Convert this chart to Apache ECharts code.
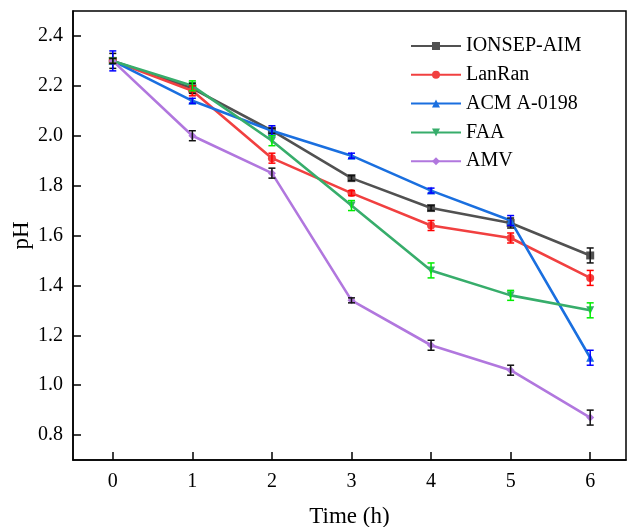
<!DOCTYPE html>
<html>
<head>
<meta charset="utf-8">
<script src="https://cdn.jsdelivr.net/npm/echarts@6/dist/echarts.min.js"></script>
<style>html,body{margin:0;padding:0;background:#fff}#c{width:630px;height:527px}</style>
</head>
<body>
<div id="c"></div>
<script>
var times = [0, 1, 2, 3, 4, 5, 6];
var xTicks = [0, 1, 2, 3, 4, 5, 6];
var yTicks = [0.8, 1.0, 1.2, 1.4, 1.6, 1.8, 2.0, 2.2, 2.4];
var seriesNames = ['IONSEP-AIM', 'LanRan', 'ACM A-0198', 'FAA', 'AMV'];
var ionsep = [2.30, 2.19, 2.02, 1.83, 1.71, 1.65, 1.52];
var lanran = [2.30, 2.18, 1.91, 1.77, 1.64, 1.59, 1.43];
var acm = [2.30, 2.14, 2.02, 1.92, 1.78, 1.66, 1.11];
var faa = [2.30, 2.20, 1.98, 1.72, 1.46, 1.36, 1.30];
var amv = [2.30, 2.00, 1.85, 1.34, 1.16, 1.06, 0.87];
var ionsepErr = [0.03, 0.02, 0.01, 0.01, 0.01, 0.02, 0.03];
var lanranErr = [0.01, 0.02, 0.02, 0.01, 0.02, 0.02, 0.03];
var acmErr = [0.04, 0.01, 0.02, 0.01, 0.01, 0.02, 0.03];
var faaErr = [0.01, 0.02, 0.02, 0.02, 0.03, 0.02, 0.03];
var amvErr = [0.01, 0.02, 0.02, 0.01, 0.02, 0.02, 0.03];

var values = [ionsep, lanran, acm, faa, amv];
var errors = [ionsepErr, lanranErr, acmErr, faaErr, amvErr];
var lineColors = ['#515151', '#F14040', '#1A6FDF', '#37AD6B', '#B177DE'];
var errColors = ['#111111', '#FF0000', '#0000FF', '#00EE00', '#111111'];
var symbols = ['rect', 'circle', 'triangle', 'triangle', 'diamond'];
var rotates = [0, 0, 0, 180, 0];
var FONT = '"Liberation Serif", "Times New Roman", serif';

var series = [];
values.forEach(function (vals, i) {
  series.push({
    name: seriesNames[i],
    type: 'line',
    data: times.map(function (t, j) { return [t, vals[j]]; }),
    symbol: symbols[i],
    symbolRotate: rotates[i],
    symbolSize: 8,
    showAllSymbol: true,
    lineStyle: { color: lineColors[i], width: 2.6 },
    itemStyle: { color: lineColors[i] },
    z: 2 + i,
    animation: false
  });
});
values.forEach(function (vals, i) {
  series.push({
    type: 'custom',
    name: seriesNames[i] + ' err',
    data: times.map(function (t, j) { return [t, vals[j], errors[i][j]]; }),
    z: 20,
    silent: true,
    animation: false,
    renderItem: function (params, api) {
      var x = api.value(0), y = api.value(1), e = api.value(2);
      var top = api.coord([x, y + e]);
      var bot = api.coord([x, y - e]);
      var hw = 3.5;
      var st = { stroke: errColors[i], lineWidth: 1.5 };
      return {
        type: 'group',
        children: [
          { type: 'line', shape: { x1: top[0], y1: top[1], x2: bot[0], y2: bot[1] }, style: st },
          { type: 'line', shape: { x1: top[0] - hw, y1: top[1], x2: top[0] + hw, y2: top[1] }, style: st },
          { type: 'line', shape: { x1: bot[0] - hw, y1: bot[1], x2: bot[0] + hw, y2: bot[1] }, style: st }
        ]
      };
    }
  });
});

var chart = echarts.init(document.getElementById('c'), null, { renderer: 'canvas' });
chart.setOption({
  backgroundColor: '#ffffff',
  animation: false,
  textStyle: { fontFamily: FONT },
  grid: { left: 73, right: 4, top: 11, bottom: 67, containLabel: false, outerBoundsMode: 'none', show: true, borderColor: '#000', borderWidth: 1.5, backgroundColor: 'transparent' },
  legend: {
    data: seriesNames,
    orient: 'vertical',
    left: 405,
    top: 31,
    itemWidth: 50,
    itemHeight: 10,
    itemGap: 8.8,
    textStyle: { fontFamily: FONT, fontSize: 20, color: '#000' }
  },
  xAxis: {
    type: 'value',
    min: -0.5,
    max: 6.45,
    name: 'Time (h)',
    nameLocation: 'middle',
    nameGap: 45,
    nameMoveOverlap: false,
    nameTextStyle: { fontFamily: FONT, fontSize: 23, color: '#000' },
    axisLine: { show: true, onZero: false, lineStyle: { color: '#000', width: 1.5 } },
    axisTick: { show: true, inside: true, length: 8, customValues: xTicks, lineStyle: { color: '#000', width: 1.5 } },
    axisLabel: { customValues: xTicks, margin: 12, fontFamily: FONT, fontSize: 20, color: '#000' },
    splitLine: { show: false }
  },
  yAxis: {
    type: 'value',
    min: 0.7,
    max: 2.5,
    name: 'pH',
    nameLocation: 'middle',
    nameGap: 40,
    nameMoveOverlap: false,
    nameTextStyle: { fontFamily: FONT, fontSize: 23, color: '#000' },
    axisLine: { show: true, onZero: false, lineStyle: { color: '#000', width: 1.5 } },
    axisTick: { show: true, inside: true, length: 8, customValues: yTicks, lineStyle: { color: '#000', width: 1.5 } },
    axisLabel: { customValues: yTicks, margin: 10, fontFamily: FONT, fontSize: 20, color: '#000', formatter: function (v) { return v.toFixed(1); } },
    splitLine: { show: false }
  },
  series: series
});
</script>
</body>
</html>
